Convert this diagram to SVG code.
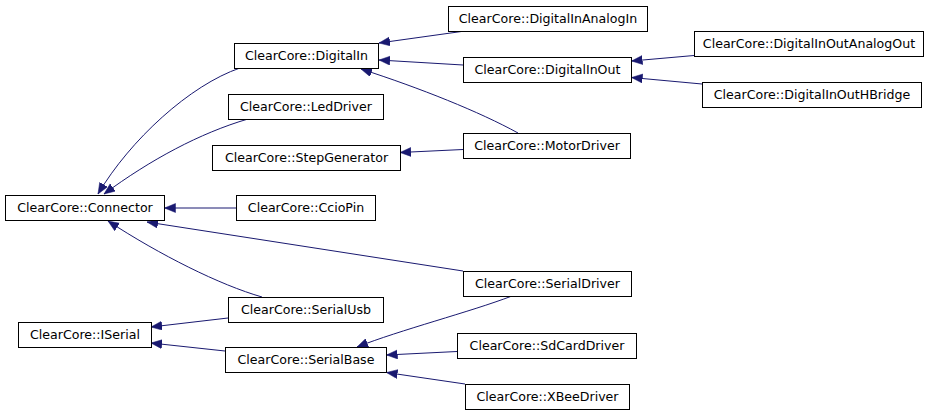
<svg xmlns="http://www.w3.org/2000/svg" width="935" height="416" viewBox="0 0 935 416">
<style>
.n rect{fill:#fff;stroke:#000;stroke-width:1}
.n text{font-family:"DejaVu Sans",sans-serif;font-size:12.6px;text-anchor:middle;fill:#000}
.e path{fill:none;stroke:#191970;stroke-width:1;marker-end:url(#ah)}
</style>
<defs>
<marker id="ah" markerUnits="userSpaceOnUse" markerWidth="13" markerHeight="10" refX="11" refY="4.5" orient="auto">
<path d="M0,0 L11,4.5 L0,9 z" fill="#191970" stroke="#191970" stroke-width="0.5"/>
</marker>
</defs>
<rect width="935" height="416" fill="#fff"/>
<g id="connectors" class="e">
<path d="M240,68 C190,85 130,140 98,194"/>
<path d="M248,119 C200,133 150,160 104,194"/>
<path d="M236,208 L164.5,208"/>
<path d="M463,271 L147,222"/>
<path d="M262,297 C220,285 160,255 108,221"/>
<path d="M228,318 L151,327"/>
<path d="M225,351 L151,343"/>
<path d="M465,31 L379,43"/>
<path d="M463,65 L379,60"/>
<path d="M518,133 C480,112 420,88 361,69"/>
<path d="M463,149.5 L400,152.5"/>
<path d="M694,55.5 L631.5,61"/>
<path d="M702,84 L631.5,77.5"/>
<path d="M512,296 C470,312 400,330 357,347"/>
<path d="M457,351.5 L386.5,355"/>
<path d="M465,384 L386.5,372.5"/>
</g>
<g id="Connector" class="n"><rect x="5.5" y="195.5" width="159" height="25"/><text x="85" y="212">ClearCore::Connector</text></g>
<g id="DigitalIn" class="n"><rect x="234.5" y="43.5" width="144" height="25"/><text x="306.5" y="60">ClearCore::DigitalIn</text></g>
<g id="LedDriver" class="n"><rect x="228.5" y="94.5" width="155" height="25"/><text x="306" y="111">ClearCore::LedDriver</text></g>
<g id="StepGenerator" class="n"><rect x="212.5" y="145.5" width="188" height="25"/><text x="306.5" y="162">ClearCore::StepGenerator</text></g>
<g id="CcioPin" class="n"><rect x="236.5" y="195.5" width="139" height="25"/><text x="306" y="212">ClearCore::CcioPin</text></g>
<g id="DigitalInAnalogIn" class="n"><rect x="448.5" y="6.5" width="199" height="25"/><text x="548" y="23">ClearCore::DigitalInAnalogIn</text></g>
<g id="DigitalInOut" class="n"><rect x="463.5" y="57.5" width="168" height="25"/><text x="547.5" y="74">ClearCore::DigitalInOut</text></g>
<g id="MotorDriver" class="n"><rect x="463.5" y="133.5" width="167" height="25"/><text x="547" y="150">ClearCore::MotorDriver</text></g>
<g id="DigitalInOutAnalogOut" class="n"><rect x="694.5" y="31.5" width="229" height="25"/><text x="809" y="48">ClearCore::DigitalInOutAnalogOut</text></g>
<g id="DigitalInOutHBridge" class="n"><rect x="702.5" y="82.5" width="219" height="25"/><text x="812" y="99">ClearCore::DigitalInOutHBridge</text></g>
<g id="SerialDriver" class="n"><rect x="463.5" y="271.5" width="168" height="25"/><text x="547.5" y="288">ClearCore::SerialDriver</text></g>
<g id="SerialUsb" class="n"><rect x="228.5" y="297.5" width="155" height="25"/><text x="306" y="314">ClearCore::SerialUsb</text></g>
<g id="ISerial" class="n"><rect x="18.5" y="322.5" width="133" height="25"/><text x="85" y="339">ClearCore::ISerial</text></g>
<g id="SerialBase" class="n"><rect x="225.5" y="347.5" width="161" height="25"/><text x="306" y="364">ClearCore::SerialBase</text></g>
<g id="SdCardDriver" class="n"><rect x="457.5" y="333.5" width="179" height="25"/><text x="547" y="350">ClearCore::SdCardDriver</text></g>
<g id="XBeeDriver" class="n"><rect x="465.5" y="384.5" width="164" height="25"/><text x="547.5" y="401">ClearCore::XBeeDriver</text></g>
</svg>
